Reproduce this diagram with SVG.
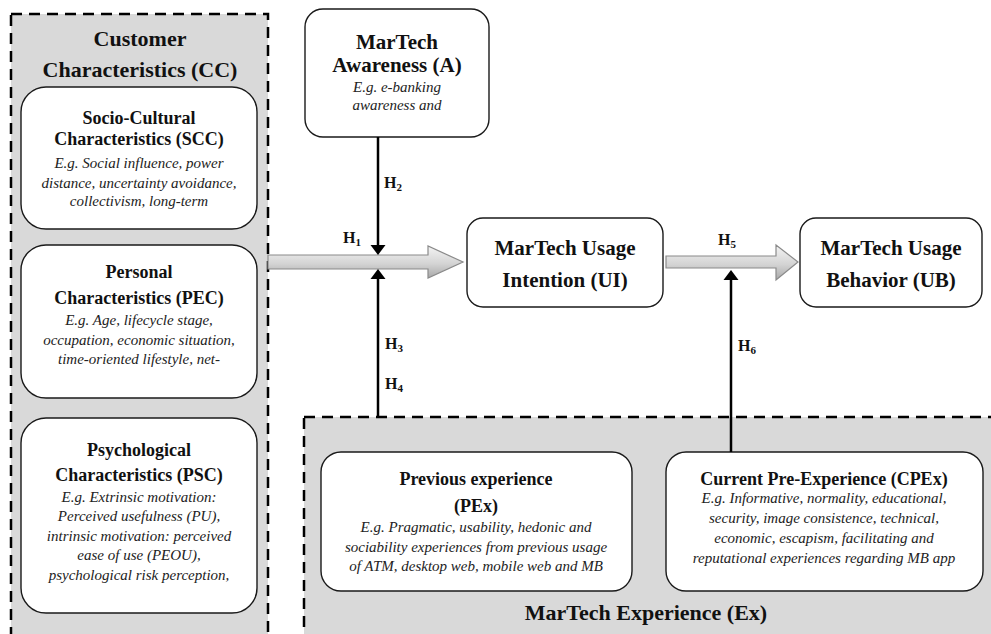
<svg xmlns="http://www.w3.org/2000/svg" width="991" height="634" viewBox="0 0 991 634">
  <defs>
    <style>
      .bg { fill: #ffffff; }
      .group { fill: #d9d9d9; stroke: #000; stroke-width: 2.5; stroke-dasharray: 11 7; }
      .box { fill: #ffffff; stroke: #1a1a1a; stroke-width: 1.4; }
      .t { font-family: "Liberation Serif", "Times New Roman", serif; fill: #111; text-anchor: middle; }
      .gt { font-size: 22px; font-weight: bold; }
      .nt { font-size: 21px; font-weight: bold; }
      .st { font-size: 18px; font-weight: bold; }
      .it { font-size: 15px; font-style: italic; fill: #222; }
      .h { font-family: "Liberation Serif", "Times New Roman", serif; font-size: 16px; font-weight: bold; fill: #111; }
      .sub { font-size: 11px; }
      .bigarrow { fill: url(#grad); stroke: #8a8a8a; stroke-width: 1.2; }
      .link { stroke: #000; stroke-width: 2.5; fill: none; marker-end: url(#ah); }
    </style>
    <linearGradient id="grad" x1="0" y1="0" x2="0" y2="1">
      <stop offset="0" stop-color="#f4f4f4"/>
      <stop offset="0.55" stop-color="#d4d4d4"/>
      <stop offset="1" stop-color="#a8a8a8"/>
    </linearGradient>
    <marker id="ah" markerUnits="userSpaceOnUse" markerWidth="11" markerHeight="16" refX="6" refY="8" orient="auto">
      <path d="M0,0.5 L10,8 L0,15.5 Z" fill="#000"/>
    </marker>
  </defs>

  <rect class="bg" x="0" y="0" width="991" height="634"/>

  <!-- Customer Characteristics group -->
  <g id="customer-characteristics">
    <rect class="group" x="11" y="14" width="257" height="640"/>
    <text class="t gt" x="140" y="46">Customer</text>
    <text class="t gt" x="140" y="77">Characteristics (CC)</text>
  </g>

  <g id="scc">
    <rect class="box" x="21" y="87" width="236" height="142" rx="25"/>
    <text class="t st" x="139" y="124">Socio-Cultural</text>
    <text class="t st" x="139" y="145">Characteristics (SCC)</text>
    <text class="t it" x="139" y="168">E.g. Social influence, power</text>
    <text class="t it" x="139" y="188">distance, uncertainty avoidance,</text>
    <text class="t it" x="139" y="206">collectivism, long-term</text>
  </g>

  <g id="pec">
    <rect class="box" x="21" y="245" width="236" height="153" rx="25"/>
    <text class="t st" x="139" y="278">Personal</text>
    <text class="t st" x="139" y="304">Characteristics (PEC)</text>
    <text class="t it" x="139" y="325">E.g. Age, lifecycle stage,</text>
    <text class="t it" x="139" y="345">occupation, economic situation,</text>
    <text class="t it" x="139" y="364">time-oriented lifestyle, net-</text>
  </g>

  <g id="psc">
    <rect class="box" x="21" y="418" width="236" height="195" rx="25"/>
    <text class="t st" x="139" y="456">Psychological</text>
    <text class="t st" x="139" y="481">Characteristics (PSC)</text>
    <text class="t it" x="139" y="502">E.g. Extrinsic motivation:</text>
    <text class="t it" x="139" y="521">Perceived usefulness (PU),</text>
    <text class="t it" x="139" y="541">intrinsic motivation: perceived</text>
    <text class="t it" x="139" y="560">ease of use (PEOU),</text>
    <text class="t it" x="139" y="580">psychological risk perception,</text>
  </g>

  <!-- MarTech Experience group -->
  <g id="martech-experience">
    <rect class="group" x="304" y="417" width="720" height="240"/>
    <text class="t gt" x="646" y="620">MarTech Experience (Ex)</text>
  </g>

  <g id="pex">
    <rect class="box" x="321" y="452" width="311" height="139" rx="20"/>
    <text class="t st" x="476" y="485">Previous experience</text>
    <text class="t st" x="476" y="512">(PEx)</text>
    <text class="t it" x="476" y="532">E.g. Pragmatic, usability, hedonic and</text>
    <text class="t it" x="476" y="552">sociability experiences from previous usage</text>
    <text class="t it" x="476" y="571">of ATM, desktop web, mobile web and MB</text>
  </g>

  <g id="cpex">
    <rect class="box" x="666" y="452" width="317" height="139" rx="20"/>
    <text class="t st" x="824" y="485">Current Pre-Experience (CPEx)</text>
    <text class="t it" x="824" y="503">E.g. Informative, normality, educational,</text>
    <text class="t it" x="824" y="523">security, image consistence, technical,</text>
    <text class="t it" x="824" y="543">economic, escapism, facilitating and</text>
    <text class="t it" x="824" y="563">reputational experiences regarding MB app</text>
  </g>

  <!-- Main nodes -->
  <g id="awareness">
    <rect class="box" x="305" y="9" width="184" height="128" rx="18"/>
    <text class="t nt" x="397" y="49">MarTech</text>
    <text class="t nt" x="397" y="72">Awareness (A)</text>
    <text class="t it" x="397" y="92">E.g. e-banking</text>
    <text class="t it" x="397" y="110">awareness and</text>
  </g>

  <g id="usage-intention">
    <rect class="box" x="467" y="218" width="196" height="89" rx="16"/>
    <text class="t nt" x="565" y="255">MarTech Usage</text>
    <text class="t nt" x="565" y="287">Intention (UI)</text>
  </g>

  <g id="usage-behavior">
    <rect class="box" x="800" y="218" width="182" height="89" rx="16"/>
    <text class="t nt" x="891" y="255">MarTech Usage</text>
    <text class="t nt" x="891" y="287">Behavior (UB)</text>
  </g>

  <!-- Connectors -->
  <g id="connectors">
    <path class="bigarrow" d="M268,255 L428,255 L428,246 L463,262 L428,278 L428,269 L268,269 Z"/>
    <path class="bigarrow" d="M666,256 L776,256 L776,245 L798,262 L776,280 L776,268 L666,268 Z"/>
    <line class="link" x1="378" y1="137" x2="378" y2="251"/>
    <line class="link" x1="378" y1="417" x2="378" y2="273"/>
    <line class="link" x1="731" y1="452" x2="731" y2="274"/>
  </g>

  <!-- Hypothesis labels -->
  <g id="labels">
    <text class="h" x="343" y="243">H<tspan class="sub" dy="3">1</tspan></text>
    <text class="h" x="384" y="188">H<tspan class="sub" dy="3">2</tspan></text>
    <text class="h" x="385" y="349">H<tspan class="sub" dy="3">3</tspan></text>
    <text class="h" x="385" y="389">H<tspan class="sub" dy="3">4</tspan></text>
    <text class="h" x="718" y="245">H<tspan class="sub" dy="3">5</tspan></text>
    <text class="h" x="738" y="351">H<tspan class="sub" dy="3">6</tspan></text>
  </g>
</svg>
